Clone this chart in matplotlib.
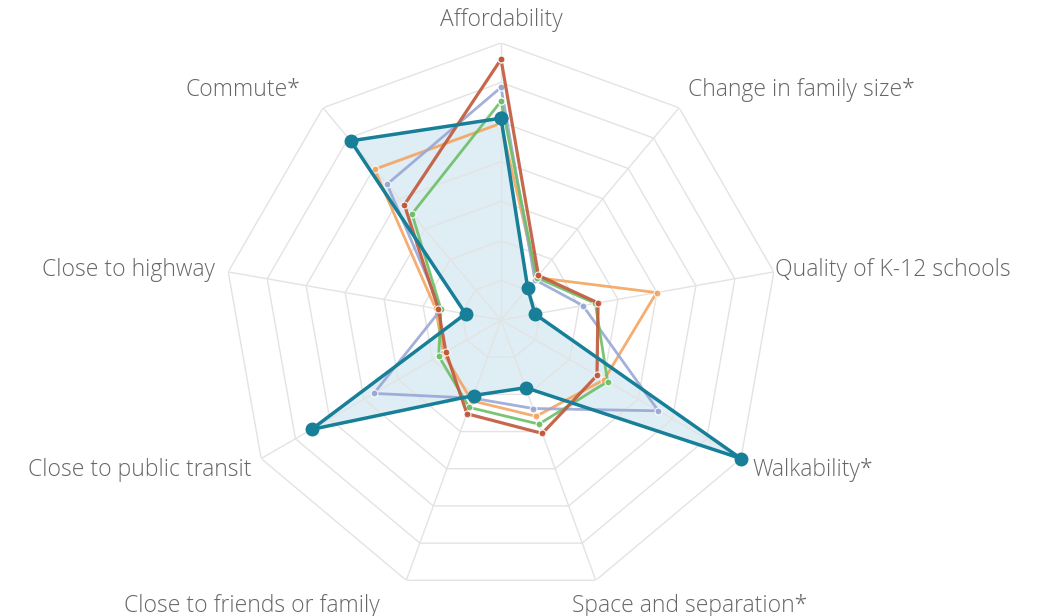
import numpy as np
import matplotlib
matplotlib.use("Agg")
import matplotlib.pyplot as plt

categories = ["Affordability", "Change in family size*", "Quality of K-12 schools",
              "Walkability*", "Space and separation*", "Close to friends or family",
              "Close to public transit", "Close to highway", "Commute*"]

# values on a 0-70 scale (7 grid rings)
teal = [51.0, 10.5, 8.7, 70.0, 18.2, 20.3, 55.3, 9.1, 59.1]
red = [65.9, 14.7, 24.9, 28.0, 30.5, 25.2, 16.1, 16.1, 38.0]
orange = [49.7, 14.0, 39.9, 30.1, 25.9, 21.7, 16.8, 16.8, 49.7]
green = [55.3, 14.0, 24.2, 31.1, 28.0, 23.5, 18.2, 15.4, 35.0]
lavender = [58.8, 13.3, 21.0, 45.9, 23.8, 21.0, 37.1, 15.4, 44.8]

rmax = 70
n_rings = 7

W, H = 1041, 616
fig = plt.figure(figsize=(W / 100, H / 100), dpi=100)
ax = fig.add_axes([0.2152, 0.0308, 0.5322, 0.8994], projection="polar")
ax.set_theta_offset(np.pi / 2)
ax.set_theta_direction(-1)
ax.set_ylim(0, rmax)
ax.set_xticks([])
ax.set_yticks([])
ax.grid(False)
ax.spines["polar"].set_visible(False)
ax.patch.set_alpha(0)

N = len(categories)
theta = np.arange(N) * 2 * np.pi / N
theta_c = np.append(theta, theta[0])

grid_col = "#e3e3e3"
for k in range(1, n_rings + 1):
    r = rmax * k / n_rings
    ax.plot(theta_c, [r] * (N + 1), color=grid_col, lw=1.0, zorder=1)
for t in theta:
    ax.plot([t, t], [0, rmax], color=grid_col, lw=1.0, zorder=1)

def close(v):
    return list(v) + [v[0]]

# teal fill
ax.fill(theta_c, close(teal), color="#9cc9e0", alpha=0.32, zorder=0.5, lw=0)

series = [
    (orange, "#f4a460", 2.0, 5),
    (lavender, "#98a8d6", 2.0, 5),
    (green, "#6cbf66", 2.0, 5),
    (red, "#c0583a", 2.3, 5),
]
for vals, col, lw, ms in series:
    ax.plot(theta_c, close(vals), color=col, lw=lw, alpha=0.9, zorder=3,
            marker="o", markersize=ms, markerfacecolor=col,
            markeredgecolor="white", markeredgewidth=0.8, clip_on=False)

ax.plot(theta_c, close(teal), color="#177f98", lw=2.5, zorder=4,
        marker="o", markersize=9, markerfacecolor="#177f98",
        markeredgecolor="#177f98", clip_on=False)

# labels: (x_px, y_px, ha)
label_pos = [
    (501, 20, "center"),
    (688, 90, "left"),
    (775, 270, "left"),
    (752, 470, "left"),
    (572, 606, "left"),
    (380, 606, "right"),
    (252, 470, "right"),
    (215, 270, "right"),
    (300, 90, "right"),
]
for lab, (x, y, ha) in zip(categories, label_pos):
    fig.text(x / W, 1 - y / H, lab, ha=ha, va="center", fontsize=16.5,
             color="#666666", family="Open Sans", fontweight="light")

fig.savefig("out.png", dpi=100)
